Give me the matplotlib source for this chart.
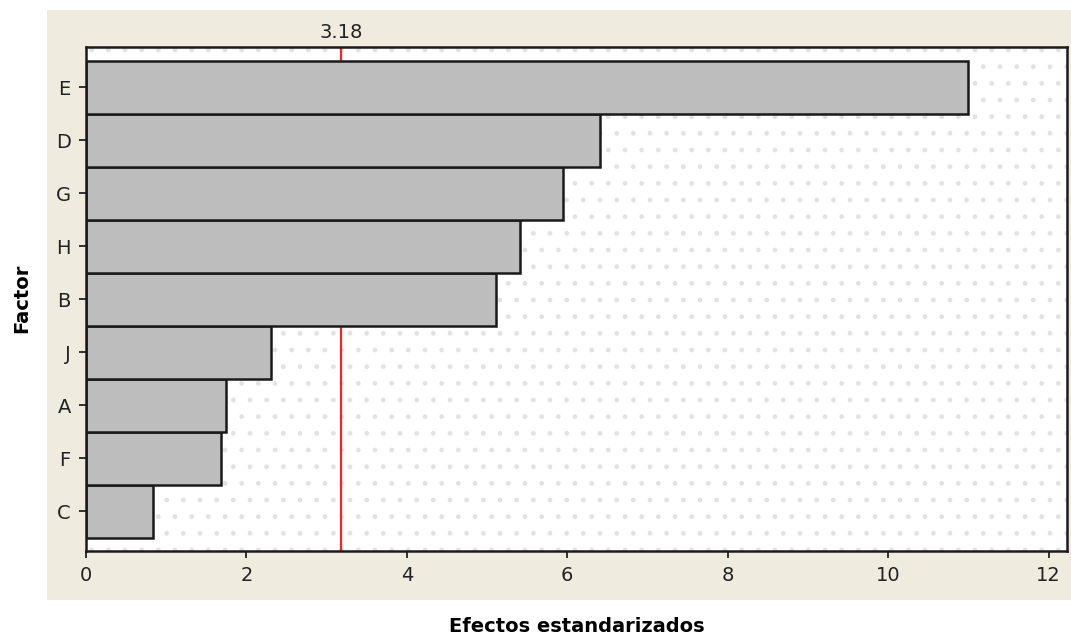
import matplotlib
matplotlib.use("Agg")
import matplotlib.pyplot as plt

factors = ["C", "F", "A", "J", "B", "H", "G", "D", "E"]
effects = [0.84, 1.68, 1.75, 2.31, 5.11, 5.41, 5.95, 6.41, 10.99]
threshold = 3.18
xticks = [0, 2, 4, 6, 8, 10, 12]

W, H = 1071, 639
fig = plt.figure(figsize=(W / 100, H / 100), dpi=100)
fig.patch.set_facecolor("white")

# beige outer panel
bg = fig.add_axes([47 / W, 1 - 600 / H, (1071 - 47) / W, (600 - 10) / H], zorder=-5)
bg.set_facecolor("#efebdf")
bg.set_xticks([])
bg.set_yticks([])
for s in bg.spines.values():
    s.set_visible(False)

ax = fig.add_axes([86 / W, 1 - 551 / H, (1067 - 86) / W, (551 - 47) / H], zorder=1)
ax.set_facecolor("white")
ax.patch.set_hatch(".")
ax.patch.set_edgecolor("#e2e2e2")
ax.patch.set_linewidth(0)

ypos = list(range(len(factors)))
ax.axvline(threshold, color="#ff2020", linewidth=1.6, zorder=1)
ax.barh(ypos, effects, height=1.0, color="#bdbdbd", edgecolor="#1a1a1a",
        linewidth=1.8, zorder=2)
ax.text(threshold, 8.76 + 0.1, f"{threshold:.2f}", ha="center", va="bottom",
        fontsize=14, color="#222222", clip_on=False)

ax.set_xlim(0, 12.23)
ax.set_ylim(-0.75, 8.76)
ax.set_yticks(ypos)
ax.set_yticklabels(factors)
ax.set_xticks(xticks)
ax.set_xticklabels([str(t) for t in xticks])
ax.tick_params(axis="both", labelsize=14, colors="#222222", length=5, width=1.3,
               pad=6)
for s in ax.spines.values():
    s.set_linewidth(1.8)
    s.set_color("#1a1a1a")

fig.text(0.5 * (86 + 1067) / W, 1 - 627 / H, "Efectos estandarizados",
         ha="center", va="center", fontsize=14, fontweight="bold")
fig.text(22 / W, 1 - 298 / H, "Factor", ha="center", va="center", fontsize=14,
         fontweight="bold", rotation=90)

fig.savefig("out.png", dpi=100)
